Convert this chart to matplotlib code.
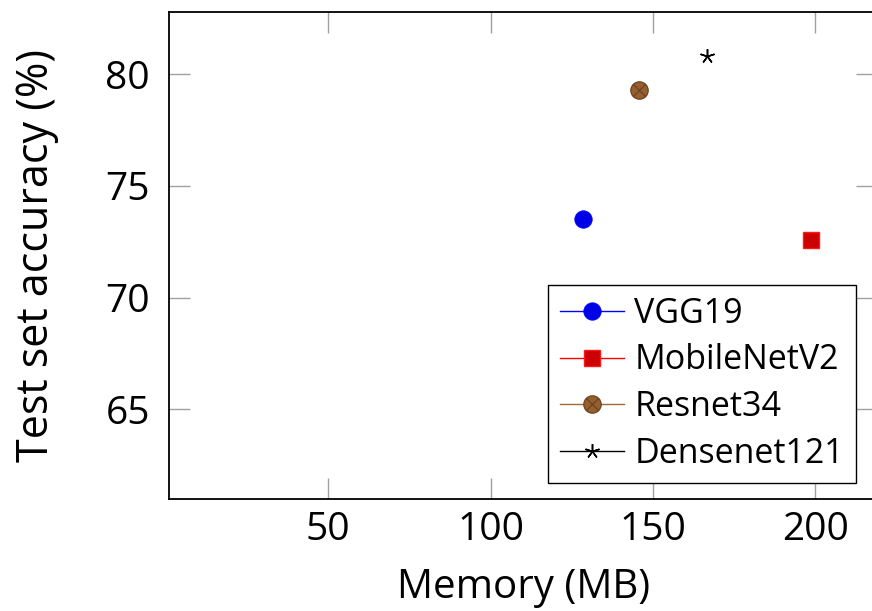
import matplotlib
matplotlib.use("Agg")
import matplotlib.pyplot as plt
import numpy as np
from matplotlib.path import Path
from matplotlib.lines import Line2D

plt.rcParams['font.family'] = ['Open Sans', 'DejaVu Sans']

models = ["VGG19", "MobileNetV2", "Resnet34", "Densenet121"]
memory_mb = [128.5, 198.6, 145.8, 166.7]
accuracy = [73.5, 72.6, 79.3, 80.8]
x_ticks = [50, 100, 150, 200]
y_ticks = [65, 70, 75, 80]

# circle with an inscribed cross (otimes)
circ = Path.unit_circle()
d = np.sqrt(0.5)
otimes = Path(
    np.concatenate([circ.vertices,
                    [[-d, -d], [d, d], [-d, d], [d, -d]]]),
    np.concatenate([circ.codes,
                    [Path.MOVETO, Path.LINETO, Path.MOVETO, Path.LINETO]]),
)

styles = [
    dict(color="#0000ff", marker="o", markersize=12.5, markerfacecolor="#0000e6",
         markeredgecolor="#0000ff", markeredgewidth=0.6),
    dict(color="#ff0000", marker="s", markersize=12, markerfacecolor="#cc0000",
         markeredgecolor="#ff1a1a", markeredgewidth=1.0),
    dict(color="#9c6b3c", marker=otimes, markersize=12.5, markerfacecolor="#96602e",
         markeredgecolor="#6b4322", markeredgewidth=0.9),
    dict(color="#000000", marker=(5, 2, 0), markersize=10.5, markerfacecolor="black",
         markeredgecolor="black", markeredgewidth=1.1),
]

fig = plt.figure(figsize=(8.72, 6.11), dpi=100)
ax = fig.add_axes([0.1941, 0.1838, 0.8115, 0.7971])

handles = []
for name, x, y, st in zip(models, memory_mb, accuracy, styles):
    ax.plot([x], [y], linestyle="none", clip_on=False,
            **{k: v for k, v in st.items() if k != "color"})
    handles.append(Line2D([], [], linewidth=1.0, label=name, **st))

ax.set_xlim(1, 219)
ax.set_ylim(61, 82.8)
ax.set_xticks(x_ticks)
ax.set_yticks(y_ticks)

ax.tick_params(axis="both", which="major", direction="in", length=15, width=1,
               color="#a0a0a0", labelsize=28, top=True, right=True)
ax.tick_params(axis="x", pad=9)
ax.tick_params(axis="y", pad=14)
for s in ax.spines.values():
    s.set_linewidth(1.3)
    s.set_color("black")

ax.set_xlabel("Memory (MB)", fontsize=29, labelpad=13)
ax.set_ylabel("Test set accuracy (%)", fontsize=31, labelpad=33)

leg = ax.legend(handles=handles, loc="lower right", bbox_to_anchor=(0.9705, 0.0325),
                fontsize=24.5, frameon=True, fancybox=False, framealpha=1,
                edgecolor="black", handlelength=1.9, handletextpad=0.3,
                labelspacing=0.375, borderpad=0.35, borderaxespad=0)
leg.get_frame().set_linewidth(1.0)

fig.savefig("out.png", dpi=100)
